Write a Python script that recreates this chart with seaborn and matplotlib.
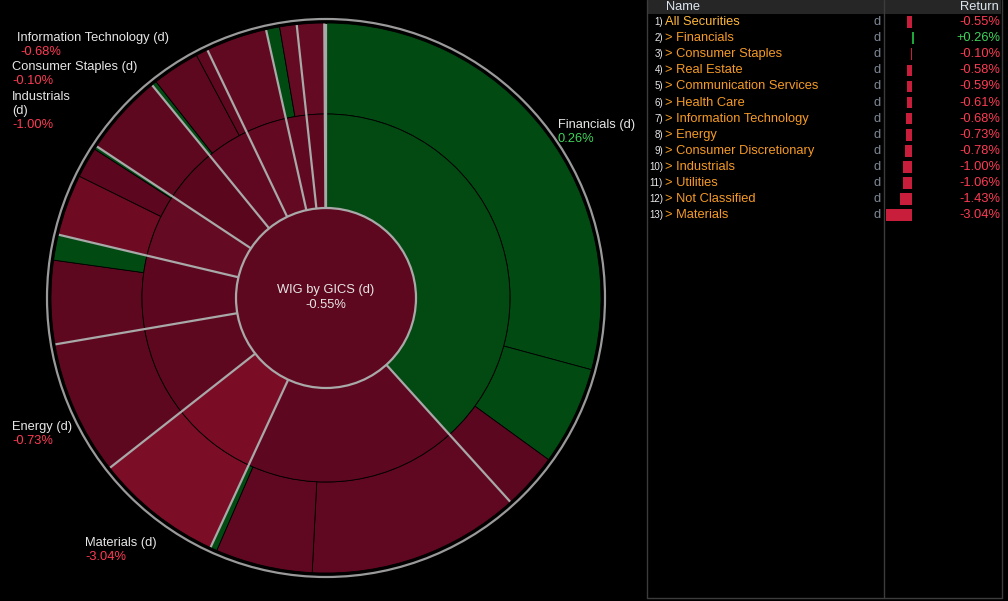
import numpy as np
import matplotlib
matplotlib.use('Agg')
import matplotlib.pyplot as plt
from matplotlib.patches import Circle, Rectangle
import seaborn as sns

sns.set_style('dark', {'axes.facecolor': 'black', 'figure.facecolor': 'black'})
plt.rcParams['font.family'] = ['Liberation Sans', 'DejaVu Sans']

# sunburst: sector weights in the index (%), clockwise from 12 o'clock
sectors = ['Financials', 'Consumer Discretionary', 'Materials', 'Energy',
           'Communication Services', 'Industrials', 'Consumer Staples',
           'Information Technology', 'Utilities', 'Health Care',
           'Real Estate', 'Not Classified']
sector_weight = [38.3, 18.6, 7.5, 7.9, 6.4, 5.6, 4.8, 3.8, 3.6, 1.8, 1.6, 0.1]
# industry weights inside each sector (outer ring)
industry_weight = [[29.2, 5.8, 3.3], [12.5, 5.7, 0.4], [7.5], [7.9],
                   [4.9, 1.5], [3.6, 1.8, 0.2], [4.8], [0.3, 2.8, 0.7],
                   [3.6], [0.8, 1.0], [1.6], [0.1]]

# table on the right
table_names = ['All Securities', 'Financials', 'Consumer Staples', 'Real Estate',
               'Communication Services', 'Health Care', 'Information Technology',
               'Energy', 'Consumer Discretionary', 'Industrials', 'Utilities',
               'Not Classified', 'Materials']
table_returns = [-0.55, 0.26, -0.10, -0.58, -0.59, -0.61, -0.68, -0.73, -0.78,
                 -1.00, -1.06, -1.43, -3.04]
index_name = 'WIG by GICS (d)'
index_return = -0.55

# colours
GREEN = '#014b12'
sector_colors = ['#024a12', '#5e0720', '#7a0c25', '#5e0820', '#5c071f', '#640a22',
                 '#5a061d', '#600821', '#630922', '#600821', '#5e0820', '#5e0820']
industry_colors = [[GREEN, GREEN, '#5c0720'], ['#600821', '#600821', GREEN],
                   ['#7c0d26'], ['#5e0820'], ['#5e0820', GREEN],
                   ['#6e0a22', '#5c071f', GREEN], ['#5e0820'],
                   [GREEN, '#5e0820', '#5e0820'], ['#620922'],
                   [GREEN, '#640a22'], ['#640a22'], ['#640a22']]
RED_TXT = '#ff3a55'
GRN_TXT = '#3ed45a'

W, H = 1008, 601
fig = plt.figure(figsize=(W / 100, H / 100), dpi=100)
fig.patch.set_facecolor('black')
ax = fig.add_axes([0, 0, 1, 1])
ax.set_facecolor('black')

cx, cy = 326, 298
R1, R2, R3 = 90, 184, 275

# outer ring (industries)
outer_w = [w for grp in industry_weight for w in grp]
outer_c = [c for grp in industry_colors for c in grp]
ax.pie(outer_w, radius=R3, center=(cx, cy), colors=outer_c, startangle=-90,
       counterclock=True, wedgeprops=dict(width=R3 - R2, edgecolor='black', linewidth=0.6))
# middle ring (sectors)
ax.pie(sector_weight, radius=R2, center=(cx, cy), colors=sector_colors, startangle=-90,
       counterclock=True, wedgeprops=dict(width=R2 - R1, edgecolor='black', linewidth=0.6))
# centre
ax.pie([1], radius=R1, center=(cx, cy), colors=['#5e0820'], startangle=-90,
       wedgeprops=dict(linewidth=0))

# gray sector boundaries
bounds = np.cumsum([0] + sector_weight)[:-1] / np.sum(sector_weight) * 360
for a in bounds:
    th = np.deg2rad(-90 + a)
    ax.plot([cx + R1 * np.cos(th), cx + (R3 - 0.5) * np.cos(th)],
            [cy + R1 * np.sin(th), cy + (R3 - 0.5) * np.sin(th)],
            color='#a9a9a9', lw=1.6, solid_capstyle='butt')
ax.add_patch(Circle((cx, cy), R1, fill=False, ec='#a9a9a9', lw=1.6))
ax.add_patch(Circle((cx, cy), R3 + 1.5, fill=False, ec='black', lw=1.6))
ax.add_patch(Circle((cx, cy), R3 + 4, fill=False, ec='#9a9a9a', lw=1.6))

ax.set_xlim(0, W)
ax.set_ylim(H, 0)
ax.set_axis_off()

FS = 9.3
WHITE = '#e6e6e6'
ax.text(cx, 290, index_name, color=WHITE, fontsize=FS, ha='center', va='center')
ax.text(cx, 305, f'{index_return:.2f}%', color=WHITE, fontsize=FS, ha='center', va='center')

ret = dict(zip(table_names, table_returns))
labels = [('Information Technology', ['Information Technology (d)'], 17, 38, 20),
          ('Consumer Staples', ['Consumer Staples (d)'], 12, 67, 12),
          ('Industrials', ['Industrials', '(d)'], 12, 97, 12),
          ('Energy', ['Energy (d)'], 12, 427, 12),
          ('Materials', ['Materials (d)'], 85, 543, 85),
          ('Financials', ['Financials (d)'], 558, 125, 558)]
for name, lines, x, y, xv in labels:
    for k, line in enumerate(lines):
        ax.text(x, y + 14 * k, line, color=WHITE, fontsize=FS, va='center')
    v = ret[name]
    ax.text(xv, y + 14 * len(lines), f'{v:.2f}%', color=RED_TXT if v < 0 else GRN_TXT,
            fontsize=FS, va='center')

# table frame
frame = '#3c3c3c'
ax.add_patch(Rectangle((647, 0), 354, 14, color='#262626', lw=0))
ax.plot([646.5, 646.5], [0, 597.5], color=frame, lw=1)
ax.plot([884, 884], [0, 597.5], color=frame, lw=1)
ax.plot([1001.5, 1001.5], [0, 597.5], color=frame, lw=1)
ax.plot([646.5, 1001.5], [597.5, 597.5], color=frame, lw=1)
ax.text(666, 7, 'Name', color='#dde6f0', fontsize=FS, va='center')
ax.text(999, 7, 'Return', color='#dde6f0', fontsize=FS, va='center', ha='right')

row0, dy = 22, 16.1
for i, (n, v) in enumerate(zip(table_names, table_returns)):
    y = row0 + dy * i
    ax.text(663, y, f'{i + 1})', color='#e8e8e8', fontsize=7, va='center', ha='right')
    if i == 0:
        ax.text(665, y, n, color='#ffb83a', fontsize=FS, va='center')
    else:
        ax.text(665, y, '> ' + n, color='#f59a24', fontsize=FS, va='center')
    ax.text(877, y, 'd', color='#7d8894', fontsize=FS, va='center', ha='center')
    txt = f'+{v:.2f}%' if v > 0 else f'{v:.2f}%'
    ax.text(1000, y, txt, color=GRN_TXT if v > 0 else RED_TXT, fontsize=FS,
            va='center', ha='right')

# bar column
top, bot = 14, 14 + dy * len(table_names)
bax = fig.add_axes([885 / W, 1 - bot / H, 55 / W, (bot - top) / H])
bar_colors = ['#1fa83a' if v > 0 else '#c81e3c' for v in table_returns]
sns.barplot(x=table_returns, y=table_names, hue=table_names, palette=bar_colors,
            legend=False, ax=bax, width=0.72, saturation=1, linewidth=0)
bax.set_xlim(-3.1, 3.22)
bax.set_ylim(len(table_names) - 0.5, -0.5)
bax.set_axis_off()
bax.patch.set_alpha(0)

fig.savefig('out.png', dpi=100, facecolor='black')
